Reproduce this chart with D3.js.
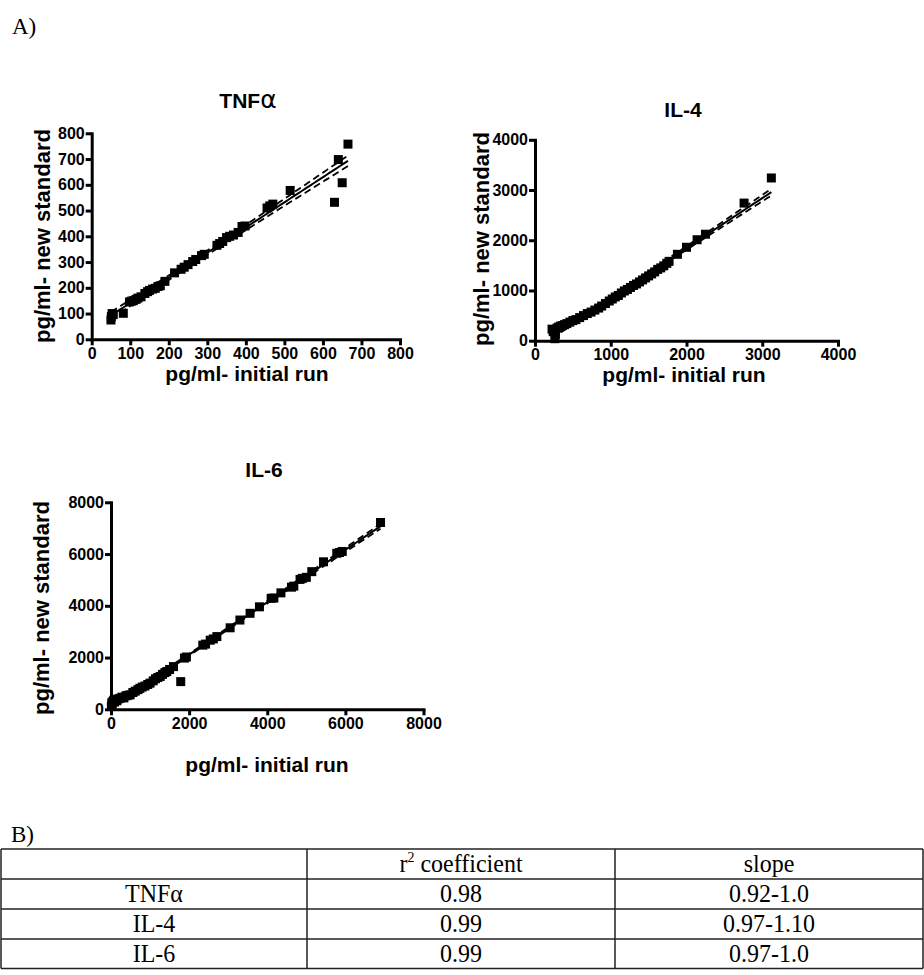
<!DOCTYPE html>
<html>
<head>
<meta charset="utf-8">
<script src="https://cdn.jsdelivr.net/npm/d3@7"></script>
<style>
  html, body { margin: 0; padding: 0; background: #fff; }
  svg { display: block; }
  .tick text { font-family: "Liberation Sans", Arial, sans-serif; font-weight: bold; font-size: 16px; fill: #000; }
</style>
</head>
<body>
<svg id="chart" width="924" height="975"></svg>
<script>
// ---------------- DATA ----------------
const panelTitles = ["TNFα", "IL-4", "IL-6"];
const xAxisLabel = "pg/ml- initial run";
const yAxisLabel = "pg/ml- new standard";

const tnfTicks = [0, 100, 200, 300, 400, 500, 600, 700, 800];
const il4Ticks = [0, 1000, 2000, 3000, 4000];
const il6Ticks = [0, 2000, 4000, 6000, 8000];

const tnfX = [50, 51, 53, 56, 82, 98, 103, 108, 115, 120, 128, 138, 145, 150, 158, 165, 172, 178, 190, 215, 232, 240, 250, 262, 270, 285, 292, 325, 332, 340, 350, 358, 368, 380, 390, 398, 455, 462, 470, 515, 630, 640, 650, 665];
const tnfY = [75, 88, 100, 96, 101, 145, 148, 150, 155, 160, 165, 178, 185, 190, 195, 198, 205, 208, 225, 258, 272, 280, 290, 302, 310, 325, 330, 365, 372, 380, 395, 400, 405, 415, 438, 440, 510, 518, 525, 578, 532, 698, 608, 758];

const il4X = [225, 240, 262, 270, 290, 310, 335, 360, 390, 420, 460, 500, 540, 590, 640, 690, 740, 790, 840, 880, 930, 980, 1020, 1060, 1100, 1140, 1180, 1220, 1260, 1300, 1340, 1380, 1420, 1460, 1500, 1540, 1580, 1620, 1660, 1700, 1740, 1770, 1880, 2000, 2140, 2250, 2760, 3120];
const il4Y = [230, 180, 40, 120, 250, 270, 290, 300, 320, 340, 370, 400, 420, 460, 500, 540, 570, 610, 650, 690, 740, 790, 830, 870, 900, 950, 990, 1020, 1060, 1100, 1130, 1170, 1210, 1250, 1290, 1330, 1370, 1420, 1450, 1490, 1540, 1580, 1720, 1860, 2010, 2120, 2740, 3240];

const il6X = [10, 20, 30, 50, 70, 90, 120, 150, 180, 230, 280, 330, 380, 430, 490, 560, 620, 690, 740, 800, 870, 940, 1000, 1080, 1140, 1200, 1260, 1320, 1380, 1430, 1500, 1600, 1785, 1880, 1930, 2350, 2420, 2540, 2620, 2710, 3050, 3300, 3560, 3800, 4100, 4170, 4350, 4620, 4680, 4840, 4900, 5000, 5140, 5440, 5780, 5850, 5920, 6900];
const il6Y = [120, 250, 180, 300, 350, 280, 380, 330, 400, 425, 470, 440, 520, 540, 560, 650, 700, 760, 810, 860, 900, 960, 1010, 1100, 1180, 1230, 1270, 1350, 1420, 1460, 1540, 1650, 1070, 1980, 2020, 2480, 2520, 2670, 2720, 2810, 3150, 3450, 3710, 3960, 4290, 4300, 4500, 4720, 4760, 5020, 5060, 5100, 5320, 5700, 6030, 6060, 6100, 7220];

const tableHeader = ["", "r² coefficient", "slope"];
const tableRowNames = ["TNFα", "IL-4", "IL-6"];
const tableR2 = ["0.98", "0.99", "0.99"];
const tableSlope = ["0.92-1.0", "0.97-1.10", "0.97-1.0"];

// ---------------- DRAW ----------------
const svg = d3.select("#chart");
const sans = "'Liberation Sans', Arial, sans-serif";
const serif = "'Liberation Serif', 'Times New Roman', serif";

function fit(xs, ys) {
  const n = xs.length;
  const xbar = d3.mean(xs), ybar = d3.mean(ys);
  let sxx = 0, sxy = 0;
  for (let i = 0; i < n; i++) { sxx += (xs[i] - xbar) ** 2; sxy += (xs[i] - xbar) * (ys[i] - ybar); }
  const b = sxy / sxx, a = ybar - b * xbar;
  let sse = 0;
  for (let i = 0; i < n; i++) sse += (ys[i] - a - b * xs[i]) ** 2;
  const s = Math.sqrt(sse / (n - 2));
  const t = 1.96 + 2.4 / (n - 2);
  return { a, b, s, t, n, xbar, sxx };
}

function drawPanel(o) {
  const g = svg.append("g");
  const x = d3.scaleLinear().domain(o.xDomain).range(o.xRange);
  const y = d3.scaleLinear().domain(o.yDomain).range(o.yRange);

  const f = fit(o.xs, o.ys);
  const xmin = d3.min(o.xs), xmax = d3.max(o.xs);
  const grid = d3.range(0, 101).map(i => xmin + (xmax - xmin) * i / 100);
  const half = xv => f.t * f.s * Math.sqrt(1 / f.n + (xv - f.xbar) ** 2 / f.sxx);
  const line = d3.line().x(d => x(d[0])).y(d => y(d[1]));

  g.append("path").attr("d", line(grid.map(v => [v, f.a + f.b * v])))
    .attr("fill", "none").attr("stroke", "#000").attr("stroke-width", 2);
  [1, -1].forEach(sg => {
    g.append("path").attr("d", line(grid.map(v => [v, f.a + f.b * v + sg * half(v)])))
      .attr("fill", "none").attr("stroke", "#000").attr("stroke-width", 1.8)
      .attr("stroke-dasharray", "7,4");
  });

  const sz = 9;
  g.selectAll("rect.pt").data(o.xs.map((v, i) => [v, o.ys[i]])).enter()
    .append("rect").attr("class", "pt")
    .attr("x", d => x(d[0]) - sz / 2).attr("y", d => y(d[1]) - sz / 2)
    .attr("width", sz).attr("height", sz).attr("fill", "#000");

  const xa = g.append("g").attr("transform", `translate(0,${o.yRange[0]})`)
    .call(d3.axisBottom(x).tickValues(o.ticks).tickFormat(d3.format("d")).tickSize(6).tickSizeOuter(0).tickPadding(2));
  const ya = g.append("g").attr("transform", `translate(${o.xRange[0]},0)`)
    .call(d3.axisLeft(y).tickValues(o.yTicks).tickFormat(d3.format("d")).tickSize(6).tickSizeOuter(0).tickPadding(1));
  [xa, ya].forEach(a => {
    a.select(".domain").attr("stroke", "#000").attr("stroke-width", 3).attr("stroke-linecap", "square");
    a.selectAll(".tick line").attr("stroke", "#000").attr("stroke-width", 3);
    a.selectAll(".tick text").attr("fill", "#000");
  });

  // title
  const tt = g.append("text").attr("x", o.titleX).attr("y", o.titleY)
    .attr("text-anchor", "middle").attr("font-family", sans).attr("font-weight", "bold").attr("font-size", 21);
  if (o.title.endsWith("α")) {
    tt.append("tspan").text(o.title.slice(0, -1));
    tt.append("tspan").attr("font-weight", "normal").attr("font-family", "'DejaVu Sans', sans-serif").attr("font-size", 25).text("α");
  } else tt.text(o.title);

  g.append("text").attr("x", o.xLabX).attr("y", o.xLabY).attr("text-anchor", "middle")
    .attr("font-family", sans).attr("font-weight", "bold").attr("font-size", 21).text(xAxisLabel);
  g.append("text").attr("transform", `translate(${o.yLabX},${o.yLabY}) rotate(-90)`).attr("text-anchor", "middle")
    .attr("font-family", sans).attr("font-weight", "bold").attr("font-size", 22).text(yAxisLabel);
}

drawPanel({ title: panelTitles[0], xs: tnfX, ys: tnfY, xDomain: [0, 800], yDomain: [0, 800],
  xRange: [91.7, 400], yRange: [339.3, 133.3], ticks: tnfTicks, yTicks: tnfTicks,
  titleX: 248, titleY: 108, xLabX: 247, xLabY: 381, yLabX: 50, yLabY: 236 });
drawPanel({ title: panelTitles[1], xs: il4X, ys: il4Y, xDomain: [0, 4000], yDomain: [0, 4000],
  xRange: [535, 838], yRange: [340.7, 139.8], ticks: il4Ticks, yTicks: il4Ticks,
  titleX: 683, titleY: 116.7, xLabX: 684, xLabY: 382, yLabX: 489, yLabY: 239 });
drawPanel({ title: panelTitles[2], xs: il6X, ys: il6Y, xDomain: [0, 8000], yDomain: [0, 8000],
  xRange: [111, 423.5], yRange: [709.3, 502.3], ticks: il6Ticks, yTicks: il6Ticks,
  titleX: 264, titleY: 476.7, xLabX: 267, xLabY: 772, yLabX: 49, yLabY: 608 });

// section labels
svg.append("text").attr("x", 12).attr("y", 34).attr("font-family", serif).attr("font-size", 23).text("A)");
svg.append("text").attr("x", 11).attr("y", 842).attr("font-family", serif).attr("font-size", 23).text("B)");

// table
const tbl = svg.append("g");
const colEdges = [1, 307, 615, 923];
const rowEdges = [849, 879, 909, 939, 968.5];
const stroke = "#222";
rowEdges.forEach(r => tbl.append("line").attr("x1", colEdges[0]).attr("x2", colEdges[3]).attr("y1", r).attr("y2", r)
  .attr("stroke", stroke).attr("stroke-width", 1.5));
colEdges.forEach(c => tbl.append("line").attr("x1", c).attr("x2", c).attr("y1", rowEdges[0]).attr("y2", rowEdges[4])
  .attr("stroke", stroke).attr("stroke-width", 1.5));
const cx = i => (colEdges[i] + colEdges[i + 1]) / 2;
function cell(col, row, txt) {
  const t = tbl.append("text").attr("x", cx(col)).attr("y", rowEdges[row + 1] - 6.5)
    .attr("text-anchor", "middle").attr("font-family", serif).attr("font-size", 24).attr("fill", "#000")
    .attr("transform", `translate(0,${rowEdges[row + 1] - 6.5}) scale(1,1.08) translate(0,${-(rowEdges[row + 1] - 6.5)})`);
  if (txt.includes("²")) {
    const parts = txt.split("²");
    t.append("tspan").text(parts[0]);
    t.append("tspan").attr("font-size", 14).attr("dy", -10).text("2");
    t.append("tspan").attr("dy", 10).text(parts[1]);
  } else t.text(txt);
}
tableHeader.forEach((h, i) => { if (h) cell(i, 0, h); });
tableRowNames.forEach((nm, r) => {
  cell(0, r + 1, nm);
  cell(1, r + 1, tableR2[r]);
  cell(2, r + 1, tableSlope[r]);
});
</script>
</body>
</html>
